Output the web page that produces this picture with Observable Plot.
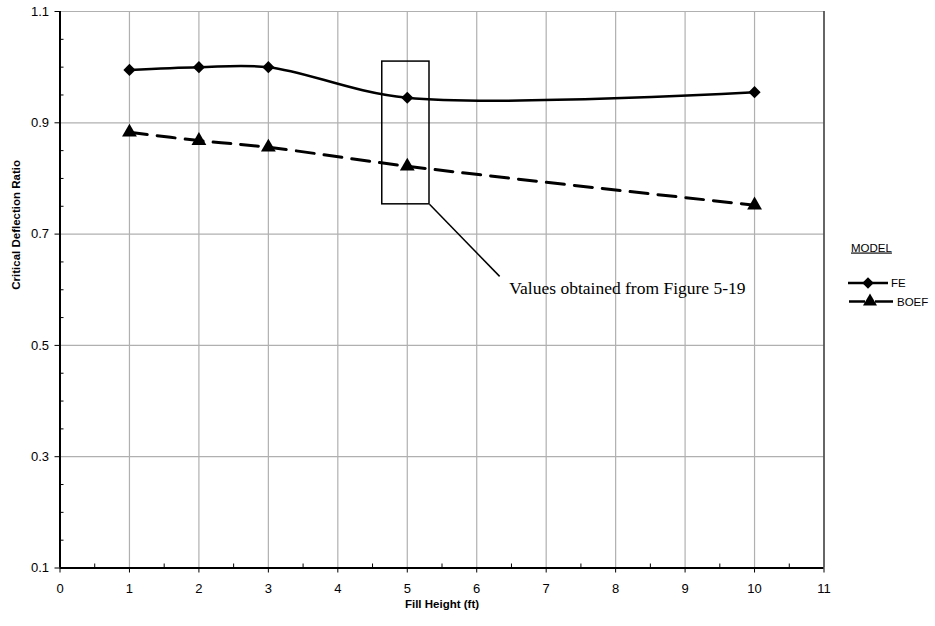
<!DOCTYPE html>
<html>
<head>
<meta charset="utf-8">
<script src="https://cdn.jsdelivr.net/npm/d3@7"></script>
<script src="https://cdn.jsdelivr.net/npm/@observablehq/plot@0.6"></script>
<style>
  html, body { margin: 0; padding: 0; background: #fff; }
  #wrap { position: relative; width: 935px; height: 626px; }
  #legend { position: absolute; left: 0; top: 0; pointer-events: none; }
</style>
</head>
<body>
<div id="wrap"></div>
<script>
// ---- data ----
const fillHeight = [1, 2, 3, 5, 10];
const feValues   = [0.995, 1.000, 1.000, 0.945, 0.955];
const boefValues = [0.883, 0.868, 0.856, 0.822, 0.752];
const seriesNames = ["FE", "BOEF"];
const legendTitle = "MODEL";

const xTicks = [0, 1, 2, 3, 4, 5, 6, 7, 8, 9, 10, 11];
const xGrid = [1, 2, 3, 4, 5, 6, 7, 8, 9, 10];
const xMinor = [0.5, 1.5, 2.5, 3.5, 4.5, 5.5, 6.5, 7.5, 8.5, 9.5, 10.5];
const yTicks = [0.1, 0.3, 0.5, 0.7, 0.9, 1.1];
const yGrid = [0.3, 0.5, 0.7, 0.9, 1.1];
const yMinor = [0.15, 0.2, 0.25, 0.35, 0.4, 0.45, 0.55, 0.6, 0.65, 0.75, 0.8, 0.85, 0.95, 1.0, 1.05];

const xLabel = "Fill Height (ft)";
const yLabel = "Critical Deflection Ratio";

// annotation (data coordinates)
const annoBox = [{x1: 4.64, x2: 5.32, y1: 0.7535, y2: 1.01}];
const annoLeader = [{x1: 5.32, y1: 0.7535, x2: 6.33, y2: 0.624}];
const annoText = [{x: 6.47, y: 0.603, text: "Values obtained from Figure 5-19"}];

// ---- build ----
const fe = fillHeight.map((x, i) => ({x, y: feValues[i]}));
const boef = fillHeight.map((x, i) => ({x, y: boefValues[i]}));

const font = "Liberation Sans, Arial, sans-serif";

const chart = Plot.plot({
  width: 935,
  height: 626,
  marginLeft: 59.5,
  marginRight: 111.5,
  marginTop: 11,
  marginBottom: 58.5,
  style: {fontFamily: font, background: "#fff", color: "#000", overflow: "visible"},
  x: {domain: [0, 11], label: null},
  y: {domain: [0.1, 1.1], label: null},
  marks: [
    Plot.gridX(xGrid, {stroke: "#b0b0b0", strokeOpacity: 1, strokeWidth: 1.2}),
    Plot.gridY(yGrid, {stroke: "#b0b0b0", strokeOpacity: 1, strokeWidth: 1.2}),
    Plot.ruleX([11], {stroke: "#333", strokeWidth: 1.5}),
    Plot.axisY(yTicks, {anchor: "left", tickSize: 5, tickPadding: 6, fontSize: 13, label: null, tickFormat: d3.format(".1f"), stroke: "#000"}),
    Plot.axisY(yMinor, {anchor: "left", tickSize: 4, dx: 4, text: null, label: null, stroke: "#000"}),
    Plot.axisX(xTicks, {anchor: "bottom", tickSize: 5, tickPadding: 11, fontSize: 13, label: null, stroke: "#000"}),
    Plot.axisX(xMinor, {anchor: "bottom", tickSize: 4, dy: -4, text: null, label: null, stroke: "#000"}),
    Plot.ruleX([0], {stroke: "#000", strokeWidth: 2}),
    Plot.ruleY([0.1], {stroke: "#000", strokeWidth: 2}),
    // annotation
    Plot.rect(annoBox, {x1: "x1", x2: "x2", y1: "y1", y2: "y2", fill: "none", stroke: "#000", strokeWidth: 1.5}),
    Plot.link(annoLeader, {x1: "x1", y1: "y1", x2: "x2", y2: "y2", stroke: "#000", strokeWidth: 1.5}),
    Plot.text(annoText, {x: "x", y: "y", text: "text", textAnchor: "start", fontSize: 17.5, fontFamily: "Liberation Serif, Times New Roman, serif", fill: "#000"}),
    // series
    Plot.line(fe, {x: "x", y: "y", curve: "catmull-rom", stroke: "#000", strokeWidth: 2.5}),
    Plot.line(boef, {x: "x", y: "y", curve: "catmull-rom", stroke: "#000", strokeWidth: 3, strokeDasharray: "18,10"}),
    Plot.dot(fe, {x: "x", y: "y", symbol: "diamond2", r: 5.5, fill: "#000", stroke: "none"}),
    Plot.dot(boef, {x: "x", y: "y", symbol: "triangle", r: 5.5, fill: "#000", stroke: "none"}),
    // axis titles
    Plot.text([yLabel], {frameAnchor: "left", dx: -43.5, rotate: -90, fontSize: 11.5, fontWeight: "bold", fill: "#000"}),
    Plot.text([xLabel], {frameAnchor: "bottom", dy: 40, fontSize: 11.5, fontWeight: "bold", fill: "#000"})
  ]
});

const wrap = document.getElementById("wrap");
wrap.appendChild(chart);

// ---- legend (HTML-positioned SVG) ----
const lg = d3.select(wrap).append("svg")
  .attr("id", "legend")
  .attr("width", 935).attr("height", 626)
  .style("font-family", font);

lg.append("text").attr("x", 851).attr("y", 251.5).attr("font-size", 11.5)
  .attr("text-decoration", "underline").text(legendTitle);

const rows = [
  {name: seriesNames[0], y: 283, symbol: d3.symbolDiamond2, segs: [[848, 888]], sx: 868, tx: 891},
  {name: seriesNames[1], y: 301.5, symbol: d3.symbolTriangle, segs: [[849, 865], [875, 893]], sx: 870, tx: 897}
];
for (const r of rows) {
  for (const s of r.segs) {
    lg.append("line").attr("x1", s[0]).attr("x2", s[1]).attr("y1", r.y).attr("y2", r.y)
      .attr("stroke", "#000").attr("stroke-width", 2.5);
  }
  lg.append("path").attr("d", d3.symbol(r.symbol, 85)())
    .attr("transform", `translate(${r.sx},${r.y})`).attr("fill", "#000");
  lg.append("text").attr("x", r.tx).attr("y", r.y).attr("dy", "0.35em")
    .attr("font-size", 11.5).text(r.name);
}
</script>
</body>
</html>
